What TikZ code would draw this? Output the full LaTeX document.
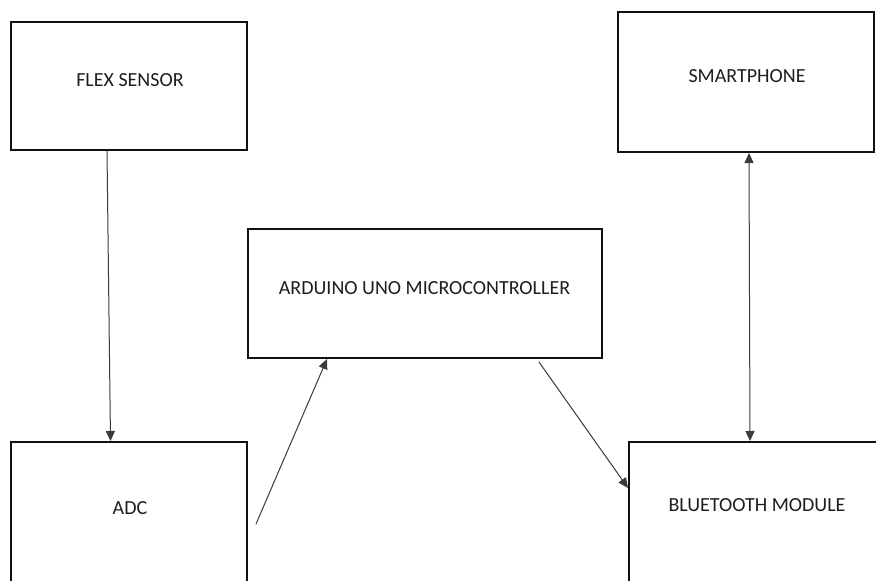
\documentclass[tikz,border=0pt]{standalone}
\usepackage{fontspec}
\setmainfont{Carlito}
\usetikzlibrary{arrows.meta}
\definecolor{boxline}{HTML}{111111}
\definecolor{arrowline}{HTML}{3A3A3A}
\definecolor{labeltext}{HTML}{1E1E1E}
\begin{document}
\begin{tikzpicture}[x=1pt,y=-1pt,
  block/.style={draw=boxline, line width=2pt, rectangle, inner sep=0pt},
  lbl/.style={font=\fontsize{20}{24}\selectfont, text=labeltext, inner sep=0pt},
  conn/.style={draw=arrowline, line width=1pt, -{Triangle[length=10pt,width=9pt]}},
  dconn/.style={draw=arrowline, line width=1pt, {Triangle[length=10pt,width=9pt]}-{Triangle[length=10pt,width=9pt]}}
]
\useasboundingbox (0,0) rectangle (876,581);
\clip (0,0) rectangle (876,581);
\fill[white] (0,0) rectangle (876,581);

% boxes
\node[block, minimum width=236pt, minimum height=128pt] (flex) at (129,86) {};
\node[block, minimum width=256pt, minimum height=140pt] (smart) at (746,82) {};
\node[block, minimum width=354pt, minimum height=129pt] (ard) at (425,293.5) {};
\node[block, minimum width=236pt, minimum height=150pt] (adc) at (129,517) {};
\node[block, minimum width=262pt, minimum height=150pt] (bt) at (760,517) {};

% labels
\node[lbl] (flexl) at (130,80) {FLEX SENSOR};
\node[lbl] (smartl) at (747,76) {SMARTPHONE};
\node[lbl] (ardl) at (424.5,288) {ARDUINO UNO MICROCONTROLLER};
\node[lbl] (adcl) at (130,508) {ADC};
\node[lbl] (btl) at (757,505) {BLUETOOTH MODULE};

% connector end points
\coordinate (c1a) at (107,151);
\coordinate (c1b) at (110.5,441);
\coordinate (c2a) at (256,524);
\coordinate (c2b) at (327,359);
\coordinate (c3a) at (539,362);
\coordinate (c3b) at (628,488);
\coordinate (c4a) at (749,153);
\coordinate (c4b) at (750,441);

% connectors
\draw[conn] (c1a) -- (c1b);
\draw[conn] (c2a) -- (c2b);
\draw[conn] (c3a) -- (c3b);
\draw[dconn] (c4a) -- (c4b);
\end{tikzpicture}
\end{document}
